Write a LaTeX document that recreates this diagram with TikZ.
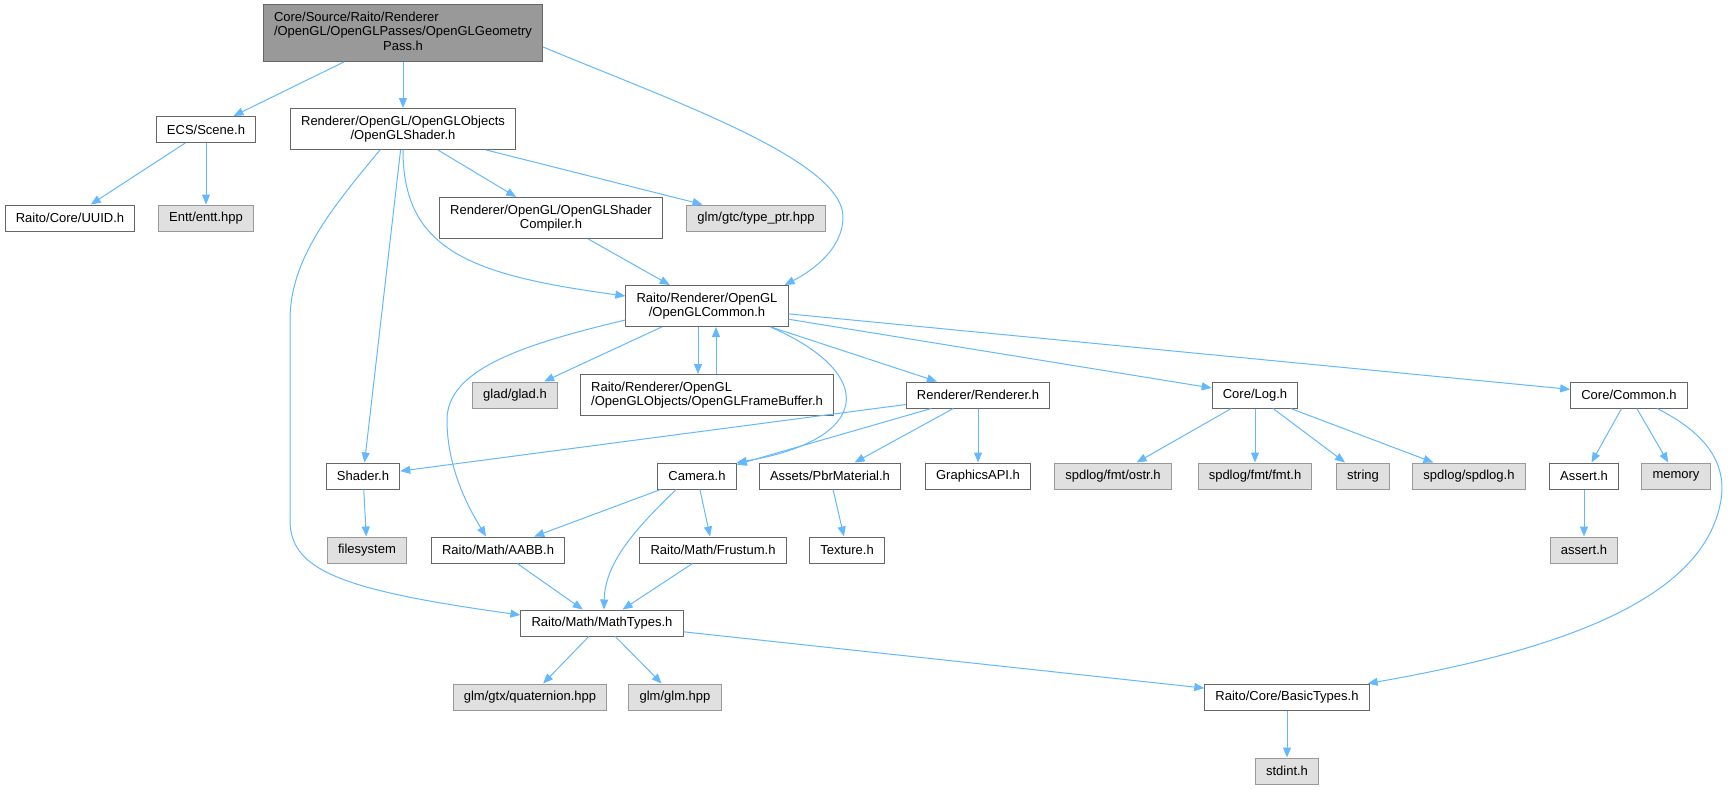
\documentclass[tikz,border=0pt]{standalone}
\usepackage{fontspec}
\setmainfont{Liberation Sans}
\usepackage{tikz}
\usetikzlibrary{arrows.meta}
\definecolor{edgeblue}{HTML}{63B8FF}
\definecolor{boxline}{HTML}{666666}
\definecolor{sysline}{HTML}{999999}
\definecolor{sysfill}{HTML}{E0E0E0}
\definecolor{rootfill}{HTML}{999999}
\tikzset{hdr/.style={draw=boxline,fill=white,line width=0.75pt,font=\fontsize{9.75}{10.7}\selectfont,
    inner xsep=8pt,inner ysep=2pt,minimum height=19.5pt,align=center},
  sys/.style={hdr,draw=sysline,fill=sysfill},
  twoline/.style={minimum height=30.75pt},
  inc/.style={draw=edgeblue,line width=0.75pt,-{Triangle[length=7.5pt,width=6pt]}}}

\begin{document}
\begin{tikzpicture}[x=0.75pt,y=-0.75pt]
\useasboundingbox (0,0) rectangle (1731,789);

\node[hdr,fill=rootfill,minimum height=42.75pt] (root) at (403,33)
  {\begin{tabular}{@{}l@{}}Core/Source/Raito/Renderer\\/OpenGL/OpenGLPasses/OpenGLGeometry\\\multicolumn{1}{@{}c@{}}{Pass.h}\end{tabular}};
\node[hdr] (scene) at (206,129.5) {ECS/Scene.h};
\node[hdr,twoline] (glshader) at (403,129) {Renderer/OpenGL/OpenGLObjects\\/OpenGLShader.h};
\node[hdr] (uuid) at (70,218) {Raito/Core/UUID.h};
\node[sys] (entt) at (206,218) {Entt/entt.hpp};
\node[hdr,twoline] (compiler) at (551,218) {Renderer/OpenGL/OpenGLShader\\Compiler.h};
\node[sys] (typeptr) at (756,218) {glm/gtc/type\_ptr.hpp};
\node[hdr,twoline] (common) at (707,306) {Raito/Renderer/OpenGL\\/OpenGLCommon.h};

\node[sys] (glad) at (515,395) {glad/glad.h};
\node[hdr,twoline,align=left] (framebuf) at (707,395) {Raito/Renderer/OpenGL\\/OpenGLObjects/OpenGLFrameBuffer.h};
\node[hdr] (renderer) at (978,395) {Renderer/Renderer.h};
\node[hdr] (log) at (1255,395) {Core/Log.h};
\node[hdr] (corecommon) at (1629,395) {Core/Common.h};

\node[hdr] (shader) at (363,476) {Shader.h};
\node[hdr] (camera) at (697,476) {Camera.h};
\node[hdr] (pbr) at (830,476) {Assets/PbrMaterial.h};
\node[hdr] (graphics) at (978,476) {GraphicsAPI.h};
\node[sys] (ostr) at (1113,476) {spdlog/fmt/ostr.h};
\node[sys] (fmt) at (1255,476) {spdlog/fmt/fmt.h};
\node[sys] (string) at (1363,476) {string};
\node[sys] (spdlog) at (1469,476) {spdlog/spdlog.h};
\node[hdr] (assrt) at (1584,476) {Assert.h};
\node[sys] (memory) at (1676,476) {memory};

\node[sys] (filesystem) at (367,550) {filesystem};
\node[hdr] (aabb) at (498,550) {Raito/Math/AABB.h};
\node[hdr] (frustum) at (713,550) {Raito/Math/Frustum.h};
\node[hdr] (texture) at (847,550) {Texture.h};
\node[sys] (cassert) at (1584,550) {assert.h};

\node[hdr] (mathtypes) at (602,623) {Raito/Math/MathTypes.h};
\node[sys] (quat) at (530,697) {glm/gtx/quaternion.hpp};
\node[sys] (glm) at (675,697) {glm/glm.hpp};
\node[hdr] (basic) at (1287,697) {Raito/Core/BasicTypes.h};
\node[sys] (stdint) at (1287,771) {stdint.h};

\draw[inc] (root) -- (scene);
\draw[inc] (root) -- (glshader);
\draw[inc] ([yshift=-10.5pt]root.east) .. controls (670,100) and (843,160) .. (843,217)
  .. controls (843,250) and (810,272) .. ([xshift=-3pt]common.north east);
\draw[inc] (scene) -- (uuid);
\draw[inc] (scene) -- (entt);
\foreach \t in {compiler,typeptr,shader}
  \draw[inc] (glshader) -- (\t);
\draw[inc] (glshader.south) .. controls (403,250) and (470,275) .. ([yshift=7.5pt]common.west);
\draw[inc] ([xshift=-17.25pt]glshader.south) .. controls (330,210) and (290,260) .. (290,320)
  -- (290,520) .. controls (290,570) and (340,590) .. ([yshift=6pt]mathtypes.west);
\draw[inc] (compiler) -- (common);

\foreach \t in {glad,renderer,log,corecommon}
  \draw[inc] (common) -- (\t);
\draw[inc] ([xshift=-6.75pt]common.south) -- ([xshift=-6.75pt]framebuf.north);
\draw[inc] ([xshift=6.75pt]framebuf.north) -- ([xshift=6.75pt]common.south);
\draw[inc] ([yshift=-10.5pt]common.west) .. controls (520,345) and (447,370) .. (447,420)
  .. controls (447,470) and (470,510) .. ([xshift=-9pt]aabb.north);
\draw[inc] ([xshift=-13.5pt]common.south east) .. controls (880,375) and (870,440) .. (camera.north east);

\foreach \t in {shader,camera,pbr,graphics}
  \draw[inc] (renderer) -- (\t);
\foreach \t in {ostr,fmt,string,spdlog}
  \draw[inc] (log) -- (\t);
\draw[inc] (corecommon) -- (assrt);
\draw[inc] (corecommon) -- (memory);
\draw[inc] ([xshift=21pt]corecommon.south) .. controls (1700,430) and (1730,460) .. (1720,505)
  .. controls (1700,600) and (1560,650) .. ([xshift=-1.5pt]basic.north east);

\draw[inc] (shader) -- (filesystem);
\draw[inc] (camera) -- (aabb);
\draw[inc] (camera) -- (frustum);
\draw[inc] ([xshift=-15.75pt]camera.south) .. controls (640,525) and (605,560) .. ([xshift=1.5pt]mathtypes.north);
\draw[inc] (pbr) -- (texture);
\draw[inc] (assrt) -- (cassert);

\draw[inc] (aabb) -- (mathtypes);
\draw[inc] (frustum) -- (mathtypes);
\draw[inc] (mathtypes) -- (quat);
\draw[inc] (mathtypes) -- (glm);
\draw[inc] (mathtypes) -- (basic);
\draw[inc] (basic) -- (stdint);

\end{tikzpicture}
\end{document}
